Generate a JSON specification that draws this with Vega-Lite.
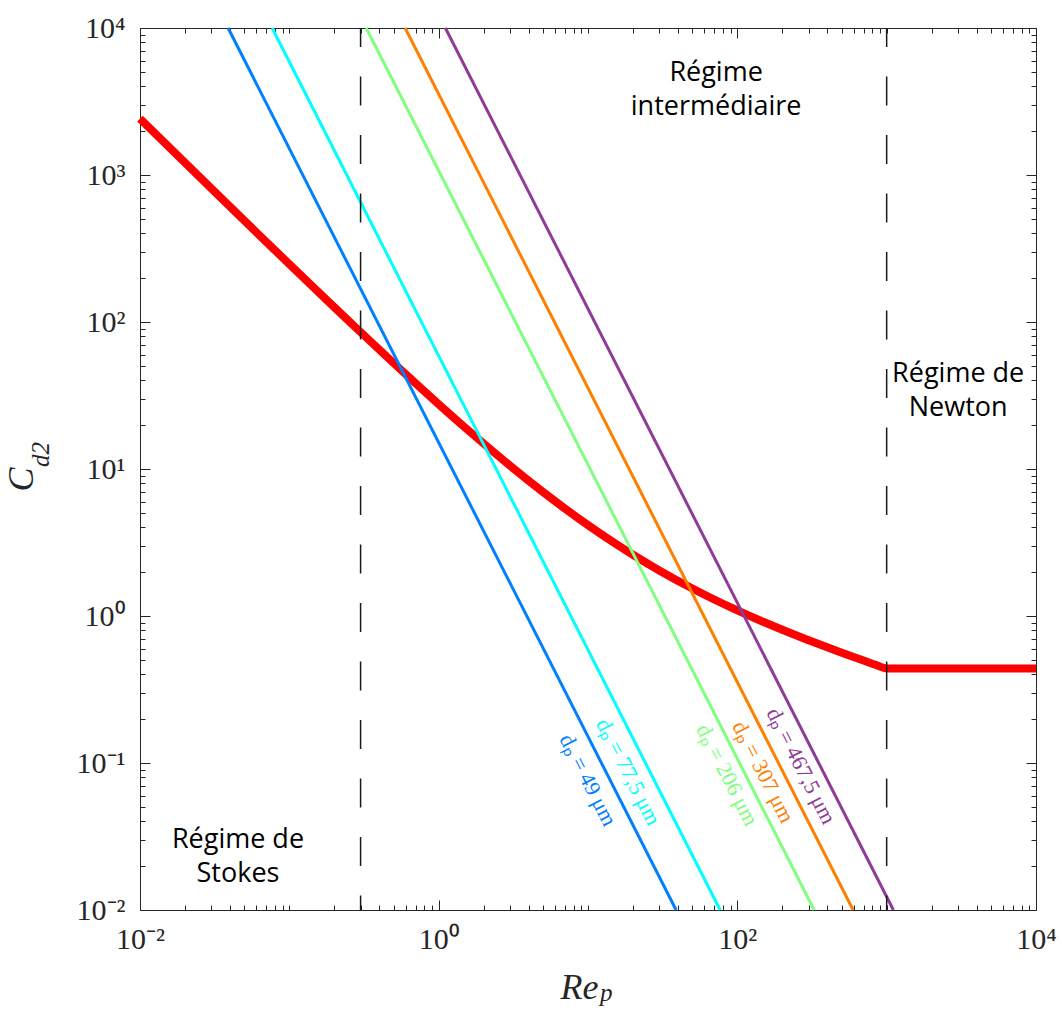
{
  "$schema": "https://vega.github.io/schema/vega-lite/v6.json",
  "width": 896,
  "height": 882,
  "autosize": {"type": "none"},
  "padding": {"left": 140, "top": 28, "right": 26, "bottom": 100},
  "background": "white",
  "config": {
    "view": {"stroke": null},
    "axis": {
      "grid": false,
      "labelFont": "Liberation Serif",
      "labelFontSize": 30,
      "labelColor": "#262626",
      "domainColor": "#262626",
      "domainWidth": 1,
      "tickColor": "#262626",
      "tickWidth": 1,
      "labelFlush": false,
      "labelOverlap": false,
      "labelBound": false,
      "zindex": 1
    }
  },
  "datasets": {
    "drag": [
      {"Re": 0.01, "Cd": 2415}, {"Re": 0.015, "Cd": 1613.4}, {"Re": 0.02, "Cd": 1212}, {"Re": 0.03, "Cd": 810.8},
      {"Re": 0.05, "Cd": 489.2}, {"Re": 0.07, "Cd": 351.1}, {"Re": 0.1, "Cd": 247.4}, {"Re": 0.15, "Cd": 166.5},
      {"Re": 0.2, "Cd": 126.0}, {"Re": 0.3, "Cd": 85.25}, {"Re": 0.5, "Cd": 52.47}, {"Re": 0.7, "Cd": 38.31},
      {"Re": 1, "Cd": 27.6}, {"Re": 1.5, "Cd": 19.17}, {"Re": 2, "Cd": 14.9}, {"Re": 3, "Cd": 10.55},
      {"Re": 5, "Cd": 6.975}, {"Re": 7, "Cd": 5.386}, {"Re": 10, "Cd": 4.151}, {"Re": 15, "Cd": 3.142},
      {"Re": 20, "Cd": 2.61}, {"Re": 30, "Cd": 2.042}, {"Re": 50, "Cd": 1.538}, {"Re": 70, "Cd": 1.295},
      {"Re": 100, "Cd": 1.092}, {"Re": 150, "Cd": 0.9102}, {"Re": 200, "Cd": 0.8057}, {"Re": 300, "Cd": 0.6838},
      {"Re": 400, "Cd": 0.612}, {"Re": 500, "Cd": 0.5626}, {"Re": 700, "Cd": 0.4976}, {"Re": 850, "Cd": 0.4642},
      {"Re": 1000, "Cd": 0.44}, {"Re": 10000, "Cd": 0.44}
    ],
    "lines": [
      {"dp": "49", "Re": 0.0389, "Cd": 10000}, {"dp": "49", "Re": 38.9, "Cd": 0.01},
      {"dp": "77.5", "Re": 0.0767, "Cd": 10000}, {"dp": "77.5", "Re": 76.7, "Cd": 0.01},
      {"dp": "206", "Re": 0.327, "Cd": 10000}, {"dp": "206", "Re": 327, "Cd": 0.01},
      {"dp": "307", "Re": 0.596, "Cd": 10000}, {"dp": "307", "Re": 596, "Cd": 0.01},
      {"dp": "467.5", "Re": 1.109, "Cd": 10000}, {"dp": "467.5", "Re": 1109, "Cd": 0.01}
    ],
    "labels": [
      {"dp": "49", "Re": 10, "Cd": 0.0766, "label": "dₚ = 49 μm"},
      {"dp": "77.5", "Re": 18.6, "Cd": 0.0869, "label": "dₚ = 77,5 μm"},
      {"dp": "206", "Re": 85.5, "Cd": 0.0828, "label": "dₚ = 206 μm"},
      {"dp": "307", "Re": 149, "Cd": 0.0869, "label": "dₚ = 307 μm"},
      {"dp": "467.5", "Re": 267, "Cd": 0.0955, "label": "dₚ = 467,5 μm"}
    ],
    "regimes": [
      {"Re": 0.0453, "Cd": 0.0299, "label": "Régime de\nStokes"},
      {"Re": 72.1, "Cd": 4943, "label": "Régime\nintermédiaire"},
      {"Re": 3013, "Cd": 44.3, "label": "Régime de\nNewton"}
    ],
    "vlines": [{"Re": 0.3}, {"Re": 1000}],
    "subx": [{"Re": 12.05, "Cd": 0.0024, "label": "p"}],
    "suby": [{"Re": 0.00245, "Cd": 10.3, "label": "d2"}]
  },
  "layer": [
    {
      "data": {"name": "drag"},
      "mark": {"type": "line", "color": "#FF0000", "strokeWidth": 8, "interpolate": "monotone", "strokeJoin": "round"},
      "encoding": {
        "x": {
          "field": "Re", "type": "quantitative",
          "scale": {"type": "log", "domain": [0.01, 10000], "nice": false},
          "axis": {
            "orient": "bottom",
            "values": [0.01,0.02,0.03,0.04,0.05,0.06,0.07,0.08,0.09,0.1,0.2,0.3,0.4,0.5,0.6,0.7,0.8,0.9,1,2,3,4,5,6,7,8,9,10,20,30,40,50,60,70,80,90,100,200,300,400,500,600,700,800,900,1000,2000,3000,4000,5000,6000,7000,8000,9000,10000],
            "labelExpr": "datum.value==0.01?'10⁻²':datum.value==1?'10⁰':datum.value==100?'10²':datum.value==10000?'10⁴':''",
            "tickSize": {"condition": {"test": "datum.value==0.01||datum.value==1||datum.value==100||datum.value==10000", "value": -10}, "value": -5},
            "labelPadding": 24,
            "labelAlign": "center",
            "labelBaseline": "top",
            "title": "Re",
            "titleFont": "Liberation Serif",
            "titleFontStyle": "italic",
            "titleFontWeight": "normal",
            "titleFontSize": 36,
            "titleColor": "#262626",
            "titleX": 439,
            "titleY": 88,
            "titleAlign": "center",
            "titleBaseline": "alphabetic"
          }
        },
        "y": {
          "field": "Cd", "type": "quantitative",
          "scale": {"type": "log", "domain": [0.01, 10000], "nice": false},
          "axis": {
            "orient": "left",
            "values": [0.01,0.02,0.03,0.04,0.05,0.06,0.07,0.08,0.09,0.1,0.2,0.3,0.4,0.5,0.6,0.7,0.8,0.9,1,2,3,4,5,6,7,8,9,10,20,30,40,50,60,70,80,90,100,200,300,400,500,600,700,800,900,1000,2000,3000,4000,5000,6000,7000,8000,9000,10000],
            "labelExpr": "datum.value==0.01?'10⁻²':datum.value==0.1?'10⁻¹':datum.value==1?'10⁰':datum.value==10?'10¹':datum.value==100?'10²':datum.value==1000?'10³':datum.value==10000?'10⁴':''",
            "tickSize": {"condition": {"test": "indexof([0.01,0.1,1,10,100,1000,10000], datum.value) >= 0", "value": -10}, "value": -5},
            "labelPadding": 25,
            "labelAlign": "right",
            "labelBaseline": "middle",
            "title": "C",
            "titleFont": "Liberation Serif",
            "titleFontStyle": "italic",
            "titleFontWeight": "normal",
            "titleFontSize": 36,
            "titleColor": "#262626",
            "titleAngle": 270,
            "titleX": -108,
            "titleY": 451,
            "titleAlign": "center",
            "titleBaseline": "alphabetic"
          }
        }
      }
    },
    {
      "data": {"name": "lines"},
      "mark": {"type": "line", "strokeWidth": 3},
      "encoding": {
        "x": {
          "field": "Re", "type": "quantitative",
          "scale": {"type": "log", "domain": [0.01, 10000], "nice": false},
          "axis": {
            "orient": "top",
            "values": [0.01,0.02,0.03,0.04,0.05,0.06,0.07,0.08,0.09,0.1,0.2,0.3,0.4,0.5,0.6,0.7,0.8,0.9,1,2,3,4,5,6,7,8,9,10,20,30,40,50,60,70,80,90,100,200,300,400,500,600,700,800,900,1000,2000,3000,4000,5000,6000,7000,8000,9000,10000],
            "labels": false,
            "title": null,
            "tickSize": {"condition": {"test": "datum.value==0.01||datum.value==1||datum.value==100||datum.value==10000", "value": -10}, "value": -5}
          }
        },
        "y": {
          "field": "Cd", "type": "quantitative",
          "scale": {"type": "log", "domain": [0.01, 10000], "nice": false},
          "axis": {
            "orient": "right",
            "values": [0.01,0.02,0.03,0.04,0.05,0.06,0.07,0.08,0.09,0.1,0.2,0.3,0.4,0.5,0.6,0.7,0.8,0.9,1,2,3,4,5,6,7,8,9,10,20,30,40,50,60,70,80,90,100,200,300,400,500,600,700,800,900,1000,2000,3000,4000,5000,6000,7000,8000,9000,10000],
            "labels": false,
            "title": null,
            "tickSize": {"condition": {"test": "indexof([0.01,0.1,1,10,100,1000,10000], datum.value) >= 0", "value": -10}, "value": -5}
          }
        },
        "color": {
          "field": "dp", "type": "nominal",
          "scale": {"domain": ["49", "77.5", "206", "307", "467.5"], "range": ["#0080FF", "#00FFFF", "#80FF80", "#FF8000", "#8E3C96"]},
          "legend": null
        }
      }
    },
    {
      "data": {"name": "vlines"},
      "mark": {"type": "rule", "color": "#1A1A1A", "strokeWidth": 1.5, "strokeDash": [29, 29.5], "strokeDashOffset": 10},
      "encoding": {
        "x": {"field": "Re", "type": "quantitative", "scale": {"type": "log", "domain": [0.01, 10000], "nice": false}, "axis": null},
        "y": {"datum": 10000, "type": "quantitative", "scale": {"type": "log", "domain": [0.01, 10000], "nice": false}, "axis": null},
        "y2": {"datum": 0.01}
      }
    },
    {
      "data": {"name": "regimes"},
      "mark": {"type": "text", "font": "Open Sans", "fontSize": 27, "lineBreak": "\n", "lineHeight": 34, "align": "center", "baseline": "middle", "color": "#000000"},
      "encoding": {
        "x": {"field": "Re", "type": "quantitative", "scale": {"type": "log", "domain": [0.01, 10000], "nice": false}, "axis": null},
        "y": {"field": "Cd", "type": "quantitative", "scale": {"type": "log", "domain": [0.01, 10000], "nice": false}, "axis": null},
        "text": {"field": "label"}
      }
    },
    {
      "data": {"name": "labels"},
      "mark": {"type": "text", "font": "Liberation Serif", "fontSize": 22, "angle": 63, "align": "center", "baseline": "middle"},
      "encoding": {
        "x": {"field": "Re", "type": "quantitative", "scale": {"type": "log", "domain": [0.01, 10000], "nice": false}, "axis": null},
        "y": {"field": "Cd", "type": "quantitative", "scale": {"type": "log", "domain": [0.01, 10000], "nice": false}, "axis": null},
        "text": {"field": "label"},
        "color": {"field": "dp", "type": "nominal", "legend": null}
      }
    },
    {
      "data": {"name": "subx"},
      "mark": {"type": "text", "font": "Liberation Serif", "fontStyle": "italic", "fontSize": 25, "align": "left", "baseline": "alphabetic", "color": "#262626"},
      "encoding": {
        "x": {"field": "Re", "type": "quantitative", "scale": {"type": "log", "domain": [0.01, 10000], "nice": false}, "axis": null},
        "y": {"field": "Cd", "type": "quantitative", "scale": {"type": "log", "domain": [0.01, 10000], "nice": false}, "axis": null},
        "text": {"field": "label"}
      }
    },
    {
      "data": {"name": "suby"},
      "mark": {"type": "text", "font": "Liberation Serif", "fontStyle": "italic", "fontSize": 25, "angle": 270, "align": "left", "baseline": "alphabetic", "color": "#262626"},
      "encoding": {
        "x": {"field": "Re", "type": "quantitative", "scale": {"type": "log", "domain": [0.01, 10000], "nice": false}, "axis": null},
        "y": {"field": "Cd", "type": "quantitative", "scale": {"type": "log", "domain": [0.01, 10000], "nice": false}, "axis": null},
        "text": {"field": "label"}
      }
    }
  ],
  "resolve": {"axis": {"x": "independent", "y": "independent"}}
}
